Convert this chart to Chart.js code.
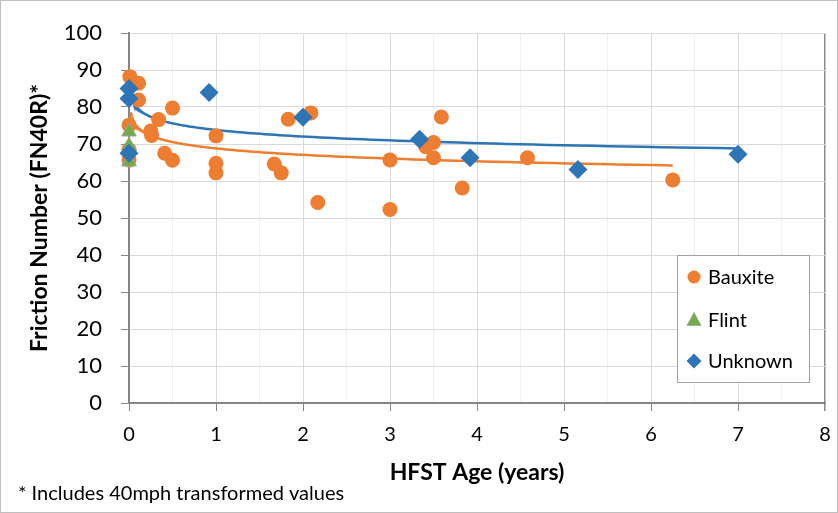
<!DOCTYPE html>
<html>
<head>
<meta charset="utf-8">
<script src="https://cdn.jsdelivr.net/npm/chart.js@4/dist/chart.umd.min.js"></script>
<style>
  html, body { margin: 0; padding: 0; background: #ffffff; }
  #wrap { width: 838px; height: 513px; position: relative; }
  canvas { display: block; }
</style>
</head>
<body>
<div id="wrap"><canvas id="c" width="838" height="513"></canvas></div>
<script>
// ---- Data ----
const bauxiteX = [0.01, 0.11, 0.11, 0.00, 0.00, 0.00, 0.25, 0.26, 0.34, 0.41, 0.50, 0.50, 1.00, 1.00, 1.00, 1.67, 1.75, 1.83, 2.09, 2.17, 3.00, 3.00, 3.41, 3.50, 3.50, 3.59, 3.83, 4.58, 6.25];
const bauxiteY = [88.2, 86.4, 81.9, 75.1, 68.5, 65.7, 73.5, 72.3, 76.6, 67.5, 65.6, 79.7, 72.2, 64.8, 62.2, 64.6, 62.2, 76.7, 78.4, 54.2, 65.7, 52.3, 69.3, 70.4, 66.3, 77.3, 58.1, 66.3, 60.3];

const flintX = [0.00, 0.00, 0.00];
const flintY = [73.3, 69.5, 65.2];

const unknownX = [0.00, 0.00, 0.00, 0.92, 2.00, 3.34, 3.92, 5.16, 7.00];
const unknownY = [85.0, 82.3, 67.5, 83.9, 77.2, 71.3, 66.3, 63.1, 67.2];

// Logarithmic trendlines (y = a*ln(x) + b), coefficients
const bauxiteTrend = { a: -2.5, b: 68.8, xMin: 0.02, xMax: 6.25 };
const unknownTrend = { a: -2.57, b: 73.8, xMin: 0.03, xMax: 7.0 };

const xTicks = [0, 1, 2, 3, 4, 5, 6, 7, 8];
const yTicks = [0, 10, 20, 30, 40, 50, 60, 70, 80, 90, 100];

const seriesNames = ['Bauxite', 'Flint', 'Unknown'];
const xTitle = 'HFST Age (years)';
const yTitle = 'Friction Number (FN40R)*';
const footnote = '* Includes 40mph transformed values';

// ---- Build library structures ----
function pts(xs, ys) { return xs.map((x, i) => ({ x: x, y: ys[i] })); }
function trendPts(t) {
  const out = [];
  const n = 160;
  const l0 = Math.log(t.xMin), l1 = Math.log(t.xMax);
  for (let i = 0; i <= n; i++) {
    const x = Math.exp(l0 + (l1 - l0) * i / n);
    out.push({ x: x, y: t.a * Math.log(x) + t.b });
  }
  return out;
}

const ORANGE = '#ED7D31', GREEN = '#70AD47', BLUE = '#2E75B6';
const FONT = 'Lato, "Open Sans", "Liberation Sans", sans-serif';

const legendPlugin = {
  id: 'boxLegend',
  afterDraw(chart) {
    const ctx = chart.ctx;
    ctx.save();
    // outer frame
    ctx.strokeStyle = '#bfbfbf';
    ctx.lineWidth = 1;
    ctx.strokeRect(0.5, 0.5, 837, 512);
    // legend box
    const bx = 677.5, by = 255.5, bw = 132, bh = 127;
    ctx.fillStyle = '#ffffff';
    ctx.fillRect(bx, by, bw, bh);
    ctx.strokeStyle = '#a0a0a0';
    ctx.strokeRect(bx, by, bw, bh);
    const rows = [277, 320, 361];
    const mx = 694;
    ctx.font = '20px ' + FONT;
    ctx.textBaseline = 'middle';
    ctx.textAlign = 'left';
    for (let i = 0; i < 3; i++) {
      const ds = chart.data.datasets[i];
      const y = rows[i];
      ctx.fillStyle = ds.backgroundColor;
      ctx.beginPath();
      if (ds.pointStyle === 'circle') {
        ctx.arc(mx, y, 6.5, 0, Math.PI * 2);
      } else if (ds.pointStyle === 'triangle') {
        ctx.moveTo(mx, y - 7.5);
        ctx.lineTo(mx + 7, y + 5.5);
        ctx.lineTo(mx - 7, y + 5.5);
        ctx.closePath();
      } else {
        ctx.moveTo(mx, y - 7.5);
        ctx.lineTo(mx + 7.5, y);
        ctx.lineTo(mx, y + 7.5);
        ctx.lineTo(mx - 7.5, y);
        ctx.closePath();
      }
      ctx.fill();
      if (ds.pointStyle === 'triangle') {
        ctx.strokeStyle = 'rgba(160,160,160,0.9)';
        ctx.lineWidth = 1;
        ctx.stroke();
      }
      ctx.fillStyle = '#000000';
      ctx.fillText(ds.label, 708, y + 1);
    }
    // footnote
    ctx.font = '20px ' + FONT;
    ctx.fillStyle = '#000000';
    ctx.textBaseline = 'middle';
    ctx.fillText(footnote, 18, 494);
    ctx.restore();
  }
};

new Chart(document.getElementById('c'), {
  type: 'scatter',
  data: {
    datasets: [
      { label: seriesNames[0], data: pts(bauxiteX, bauxiteY), pointStyle: 'circle', pointRadius: 7.5, pointHoverRadius: 7.5,
        backgroundColor: ORANGE, borderColor: ORANGE, borderWidth: 0, order: 3, clip: false },
      { label: seriesNames[1], data: pts(flintX, flintY), pointStyle: 'triangle', pointRadius: 8.5, pointHoverRadius: 8.5,
        backgroundColor: GREEN, borderColor: 'rgba(160,160,160,0.9)', borderWidth: 1, order: 2, clip: false },
      { label: seriesNames[2], data: pts(unknownX, unknownY), pointStyle: 'rectRot', pointRadius: 9.5, pointHoverRadius: 9.5,
        backgroundColor: BLUE, borderColor: BLUE, borderWidth: 0, order: 1, clip: false },
      { label: 'Bauxite trend', data: trendPts(bauxiteTrend), type: 'line', showLine: true, pointRadius: 0,
        borderColor: ORANGE, borderWidth: 2.5, fill: false, tension: 0, order: 10, clip: false },
      { label: 'Unknown trend', data: trendPts(unknownTrend), type: 'line', showLine: true, pointRadius: 0,
        borderColor: BLUE, borderWidth: 2.5, fill: false, tension: 0, order: 11, clip: false }
    ]
  },
  options: {
    responsive: false,
    animation: false,
    devicePixelRatio: 1,
    layout: { padding: { left: 22, right: 13, top: 33, bottom: 27 } },
    plugins: {
      legend: { display: false },
      tooltip: { enabled: false },
      title: { display: false }
    },
    scales: {
      x: {
        type: 'linear',
        min: xTicks[0],
        max: xTicks[xTicks.length - 1],
        afterBuildTicks(scale) {
          const t = [];
          for (let i = 0; i < xTicks.length; i++) {
            t.push({ value: xTicks[i] });
            if (i < xTicks.length - 1) t.push({ value: (xTicks[i] + xTicks[i + 1]) / 2 });
          }
          scale.ticks = t;
        },
        afterFit(scale) {
          scale.height = 83;
          scale.paddingLeft = 0;
          scale.paddingRight = 0;
        },
        ticks: {
          autoSkip: false,
          maxRotation: 0,
          padding: 12,
          color: '#000000',
          font: { family: FONT, size: 20 },
          callback(v) { return xTicks.includes(v) ? String(v) : ''; }
        },
        grid: {
          drawTicks: true,
          tickLength: 8,
          color(c) {
            const v = c.tick ? c.tick.value : 0;
            if (v === 8) return '#8c8c8c';
            return Number.isInteger(v) ? '#d9d9d9' : '#f0f0f0';
          },
          lineWidth(c) {
            const v = c.tick ? c.tick.value : 0;
            return v === 8 ? 1.5 : 1;
          },
          tickColor(c) {
            const v = c.tick ? c.tick.value : 0;
            return Number.isInteger(v) ? '#868686' : 'rgba(0,0,0,0)';
          }
        },
        border: { display: true, color: '#868686', width: 2 },
        title: {
          display: true,
          text: xTitle,
          color: '#000000',
          font: { family: FONT, size: 23, weight: 'bold' },
          padding: { top: 0, bottom: 0 }
        }
      },
      y: {
        type: 'linear',
        min: yTicks[0],
        max: yTicks[yTicks.length - 1],
        afterBuildTicks(scale) { scale.ticks = yTicks.map(v => ({ value: v })); },
        afterFit(scale) { scale.width = 107; },
        ticks: {
          padding: 19,
          color: '#000000',
          font: { family: FONT, size: 22 }
        },
        grid: {
          color: '#d9d9d9',
          tickLength: 8,
          tickColor: '#868686'
        },
        border: { display: true, color: '#868686', width: 2 },
        title: {
          display: true,
          text: yTitle,
          color: '#000000',
          font: { family: FONT, size: 23, weight: 'bold' },
          padding: { top: 4, bottom: 0 }
        }
      }
    }
  },
  plugins: [legendPlugin]
});
</script>
</body>
</html>
